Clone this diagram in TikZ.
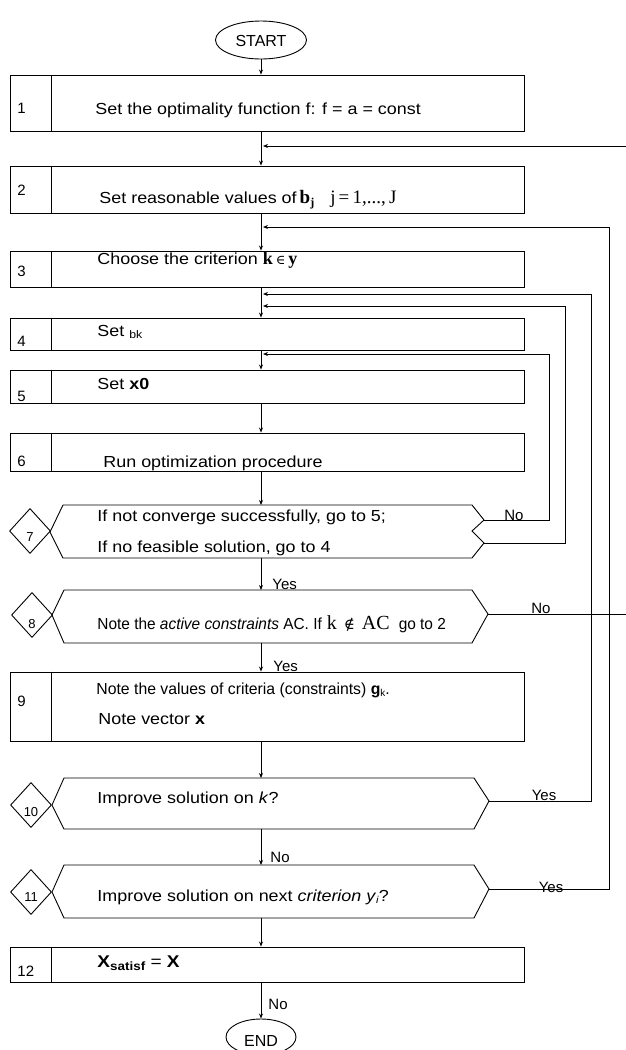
\documentclass[tikz,border=0pt]{standalone}
\usepackage{graphicx}
\usepackage{fontspec}
\setmainfont{Liberation Sans}[FakeStretch=1.12]
\newfontfamily\plain{Liberation Sans}
\newfontfamily\serif{Liberation Serif}
\newfontfamily\symb{DejaVu Serif}
\usetikzlibrary{arrows.meta,shapes.geometric}
\begin{document}
\begin{tikzpicture}[x=1pt,y=-1pt,line width=0.9pt,
  box/.style={draw, minimum width=514pt, inner sep=0pt},
  term/.style={draw, ellipse, inner sep=0pt},
  dmd/.style={draw, diamond, minimum width=41pt, minimum height=45pt, inner sep=0pt},
  txt/.style={anchor=west, inner sep=0pt, font=\fontsize{16}{19}\selectfont},
  num/.style={anchor=west, inner sep=0pt, font=\plain\fontsize{15}{17}\selectfont},
  dnum/.style={inner sep=0pt, font=\plain\fontsize{13}{15}\selectfont},
  lab/.style={inner sep=0pt, font=\plain\fontsize{15}{17}\selectfont},
  arr/.style={-{Stealth[length=5pt,width=4pt]}}]
\useasboundingbox (0,0) rectangle (625,1050);

% terminals
\node[term, minimum width=91pt, minimum height=38pt] (start) at (261,40) {};
\node[lab, font=\plain\fontsize{16}{18}\selectfont] (starttxt) at (261,41) {START};
\node[term, minimum width=70pt, minimum height=36pt] (end) at (261,1037) {};
\node[lab, font=\plain\fontsize{16}{18}\selectfont] (endtxt) at (261,1041) {END};

% boxes
\node[box, minimum height=56pt] (b1) at (267,103) {};
\node[box, minimum height=47pt] (b2) at (267,189.5) {};
\node[box, minimum height=36pt] (b3) at (267,269) {};
\node[box, minimum height=32pt] (b4) at (267,334) {};
\node[box, minimum height=33pt] (b5) at (267,386.5) {};
\node[box, minimum height=38pt] (b6) at (267,452) {};
\node[box, minimum height=69pt] (b9) at (267,706.5) {};
\node[box, minimum height=35pt] (b12) at (267,964.5) {};
\foreach \b in {b1,b2,b3,b4,b5,b6,b9,b12}
  \draw ([xshift=42pt]\b.north west) -- ([xshift=42pt]\b.south west);

% numbers
\node[num] (n1) at (17,108) {1};
\node[num] (n2) at (17,190) {2};
\node[num] (n3) at (17,271) {3};
\node[num] (n4) at (17,341) {4};
\node[num] (n5) at (17,396) {5};
\node[num] (n6) at (17,461) {6};
\node[num] (n9) at (17,701) {9};
\node[num] (n12) at (17,971) {12};

% hexagons
\draw (63,505) -- (472,505) -- (484,520) -- (472,531) -- (484,543) -- (472,558) -- (63,558) -- (50,532) -- cycle;
\draw (64,590) -- (472,590) -- (488,614) -- (472,643) -- (64,643) -- (52,615) -- cycle;
\draw (64,778) -- (474,778) -- (489,801) -- (474,829) -- (64,829) -- (52,805) -- cycle;
\draw (64,865) -- (474,865) -- (489,889) -- (474,918) -- (64,918) -- (52,892) -- cycle;
\coordinate (h7t) at (261,505); \coordinate (h7b) at (261,558);
\coordinate (h7r1) at (484,520); \coordinate (h7r2) at (484,543);
\coordinate (h8t) at (261,590); \coordinate (h8b) at (261,643); \coordinate (h8r) at (488,614);
\coordinate (h10t) at (261,778); \coordinate (h10b) at (261,829); \coordinate (h10r) at (489,801);
\coordinate (h11t) at (261,865); \coordinate (h11b) at (261,918); \coordinate (h11r) at (489,889);

% diamonds
\node[dmd] (d7) at (30,531) {};
\node[dnum] (dn7) at (30,537) {7};
\node[dmd] (d8) at (32,615) {};
\node[dnum] (dn8) at (32,624) {8};
\node[dmd] (d10) at (31,805) {};
\node[dnum] (dn10) at (31,812) {10};
\node[dmd] (d11) at (31,892) {};
\node[dnum] (dn11) at (31,897) {11};

% texts
\node[txt] (t1) at (95,110) {Set the optimality function f: f = a = const};
\node[txt] (t2) at (99,200) {Set reasonable values of\hspace{3pt}{\serif\bfseries\fontsize{19}{21}\selectfont b\raisebox{-3pt}{\fontsize{12}{13}\selectfont j}}\hspace{16pt}{\serif\fontsize{19}{21}\selectfont j\,=\,1,...,\,J}};
\node[txt] (t3) at (97,260) {Choose the criterion {\serif\bfseries\fontsize{18}{20}\selectfont k}\hspace{3pt}{\symb\fontsize{13}{15}\selectfont ∈}\hspace{3pt}{\serif\bfseries\fontsize{18}{20}\selectfont y}};
\node[txt] (t4) at (97,332) {Set \raisebox{-2pt}{\fontsize{11}{12}\selectfont bk}};
\node[txt] (t5) at (97,384) {Set \textbf{x0}};
\node[txt] (t6) at (103,463) {Run optimization procedure};
\node[txt] (t7a) at (97,517) {If not converge successfully, go to 5;};
\node[txt] (t7b) at (97,548) {If no feasible solution, go to 4};
\node[txt] (t8) at (97,624) {\scalebox{0.86}[1]{Note the \textit{active constraints} AC. If}\hspace{5pt}{\serif\fontsize{20}{22}\selectfont k}\hspace{7pt}{\symb\fontsize{15}{17}\selectfont ∉}\hspace{7pt}{\serif\fontsize{20}{22}\selectfont AC}\hspace{9pt}\scalebox{0.86}[1]{go to 2}};
\node[txt] (t9a) at (96,690) {\scalebox{0.88}[1]{Note the values of criteria (constraints) \textbf{g}\raisebox{-2pt}{\fontsize{10}{11}\selectfont k}.}};
\node[txt] (t9b) at (98,719) {Note vector \textbf{x}};
\node[txt] (t10) at (97,799) {Improve solution on \textit{k}?};
\node[txt] (t11) at (97,897) {Improve solution on next \textit{criterion y}\raisebox{-2pt}{\fontsize{10}{11}\selectfont\textit{i}}?};
\node[txt] (t12) at (97,963) {\fontsize{17}{18}\selectfont\textbf{X}\raisebox{-3pt}{\fontsize{12}{13}\selectfont\textbf{satisf}} = \textbf{X}};

% main flow
\draw[arr] (start.south) -- (start.south |- b1.north);
\draw[arr] (b1.south -| start) -- (b2.north -| start);
\draw[arr] (b2.south -| start) -- (b3.north -| start);
\draw[arr] (b3.south -| start) -- (b4.north -| start);
\draw[arr] (b4.south -| start) -- (b5.north -| start);
\draw[arr] (b5.south -| start) -- (b6.north -| start);
\draw[arr] (b6.south -| start) -- (h7t);
\draw[arr] (h7b) -- (h8t);
\draw[arr] (h8b) -- (b9.north -| start);
\draw[arr] (b9.south -| start) -- (h10t);
\draw[arr] (h10b) -- (h11t);
\draw[arr] (h11b) -- (b12.north -| start);
\draw[arr] (b12.south -| start) -- (end.north);

% feedback loops
\coordinate (in2) at (263,146);
\coordinate (in3) at (263,227);
\coordinate (in4a) at (263,294);
\coordinate (in4b) at (263,306);
\coordinate (in5) at (263,354);
\draw[arr] (h8r) -- (628,614) |- (in2);
\draw[arr] (h11r) -- (609,889) |- (in3);
\draw[arr] (h10r) -- (591,801) |- (in4a);
\draw[arr] (h7r2) -- (565,543) |- (in4b);
\draw[arr] (h7r1) -- (549,520) |- (in5);

% labels
\node[lab, anchor=south] (l7no) at (514,521) {No};
\node[lab, anchor=south] (l8no) at (541,614) {No};
\node[lab, anchor=south] (l10yes) at (544,801) {Yes};
\node[lab, anchor=south] (l11yes) at (551,893) {Yes};
\node[lab, anchor=west] (l7yes) at (272,584) {Yes};
\node[lab, anchor=west] (l8yes) at (273,666) {Yes};
\node[lab, anchor=west] (l10no) at (270,857) {No};
\node[lab, anchor=west] (l12no) at (268,1004) {No};
\end{tikzpicture}
\end{document}
